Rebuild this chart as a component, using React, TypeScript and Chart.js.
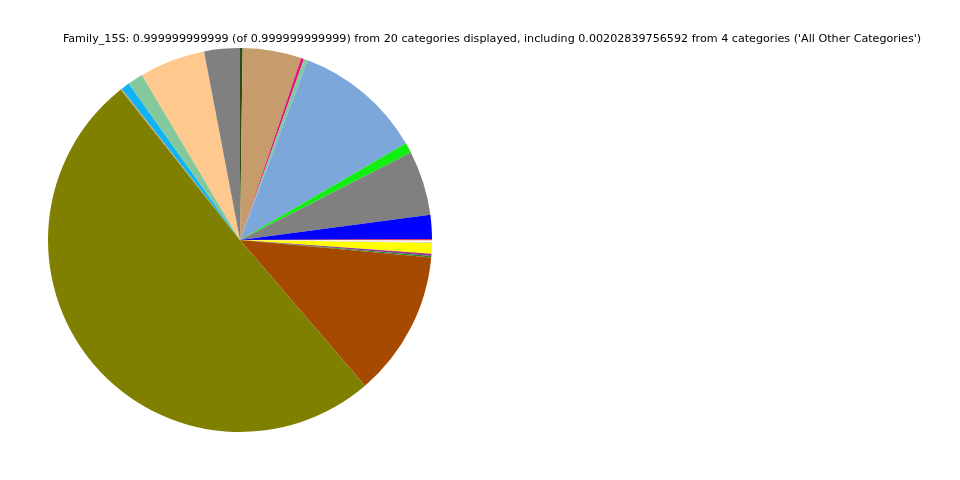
import React, { useEffect, useRef } from "react";
import { Chart, registerables } from "chart.js";

Chart.register(...registerables);

const TITLE =
  "Family_15S: 0.999999999999 (of 0.999999999999) from 20 categories displayed, including 0.00202839756592 from 4 categories ('All Other Categories')";

const categories = [
  "Cat 01", "Cat 02", "Cat 03", "Cat 04", "Cat 05", "Cat 06", "Cat 07",
  "Cat 08", "Cat 09", "Cat 10", "Cat 11", "Cat 12", "Cat 13", "Cat 14",
  "Cat 15", "Cat 16", "Cat 17", "Cat 18", "Cat 19", "Cat 20", "Cat 21",
];

const values = [
  0.0022, 0.0494, 0.0024, 0.0033, 0.1086, 0.0086, 0.0544, 0.0203, 0.001,
  0.0014, 0.0008, 0.0089, 0.0018, 0.0012, 0.1226, 0.5058, 0.0011, 0.0072,
  0.0131, 0.0553, 0.03,
];

const colors = [
  "#2e4a12", "#c69c6d", "#e0157f", "#83c99b", "#7ba7da", "#11ee11", "#808080",
  "#0000ff", "#ee1111", "#ffffff", "#d0d0d0", "#ffff00", "#993399", "#228b22",
  "#a54a00", "#808000", "#c69c6d", "#10b4f4", "#83c99b", "#ffc88e", "#808080",
];

const titlePlugin = {
  id: "refTitle",
  afterDraw(chart: any) {
    const ctx = chart.ctx;
    ctx.save();
    ctx.font = '11.15px "DejaVu Sans"';
    ctx.fillStyle = "#000";
    ctx.textAlign = "center";
    ctx.textBaseline = "middle";
    ctx.fillText(TITLE, 492, 39.5);
    ctx.restore();
  },
};

export default function App() {
  const ref = useRef<HTMLCanvasElement>(null);
  useEffect(() => {
    if (!ref.current) return;
    const chart = new Chart(ref.current, {
      type: "pie",
      data: {
        labels: categories,
        datasets: [
          {
            data: values,
            backgroundColor: colors,
            borderWidth: 0,
          },
        ],
      },
      options: {
        responsive: false,
        animation: false,
        layout: { padding: { left: 48, top: 48, right: 528, bottom: 48 } },
        plugins: {
          legend: { display: false },
          tooltip: { enabled: false },
          title: { display: false },
        },
      },
      plugins: [titlePlugin],
    });
    return () => chart.destroy();
  }, []);
  return (
    <div style={{ position: "fixed", left: 0, top: 0, width: 960, height: 480, background: "#fff" }}>
      <canvas ref={ref} width={960} height={480} />
    </div>
  );
}
